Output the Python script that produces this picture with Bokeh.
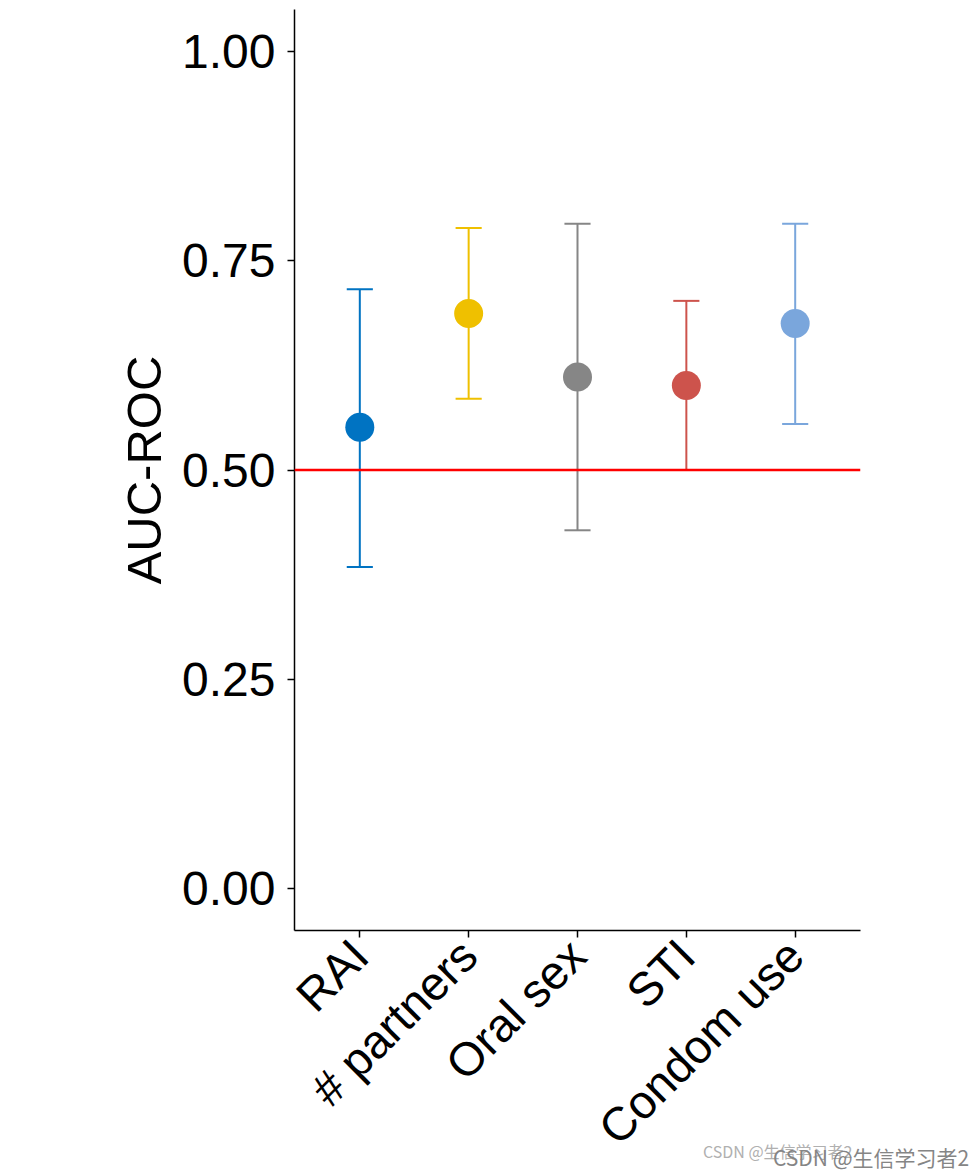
import math
from bokeh.plotting import figure
from bokeh.layouts import column
from bokeh.models import (ColumnDataSource, FactorRange, Span, FixedTicker, Div)
from bokeh.transform import dodge
from bokeh.embed import file_html
from bokeh.resources import INLINE

categories = ["RAI", "# partners", "Oral sex", "STI", "Condom use"]
auc = [0.551, 0.687, 0.611, 0.601, 0.675]
lower = [0.384, 0.585, 0.428, 0.500, 0.555]
upper = [0.716, 0.789, 0.794, 0.702, 0.794]
colors = ["#0073C2", "#EFC000", "#868686", "#CD534C", "#7AA6DC"]
y_ticks = [0.0, 0.25, 0.5, 0.75, 1.0]
y_tick_labels = ["0.00", "0.25", "0.50", "0.75", "1.00"]
reference_line = 0.5
watermark = "CSDN @生信学习者2"

FONT = "Liberation Sans"

source = ColumnDataSource(dict(cat=categories, auc=auc, lower=lower,
                               upper=upper, color=colors))

x_range = FactorRange(factors=categories, range_padding=0.1,
                      range_padding_units="absolute")

p = figure(width=964, height=1176, x_range=x_range, y_range=(-0.05, 1.05),
           output_backend="svg", toolbar_location=None,
           min_border_left=294, min_border_right=104,
           min_border_top=9, min_border_bottom=245)

p.outline_line_color = None
p.xgrid.grid_line_color = None
p.ygrid.grid_line_color = None
p.background_fill_color = "white"
p.border_fill_color = "white"

# reference line
p.add_layout(Span(location=reference_line, dimension="width",
                  line_color="#FF0000", line_width=2.5))

# error bars
p.segment(x0="cat", y0="lower", x1="cat", y1="upper", source=source,
          line_color="color", line_width=2)
cap = 0.12
p.segment(x0=dodge("cat", -cap, range=x_range), y0="upper",
          x1=dodge("cat", cap, range=x_range), y1="upper", source=source,
          line_color="color", line_width=2)
p.segment(x0=dodge("cat", -cap, range=x_range), y0="lower",
          x1=dodge("cat", cap, range=x_range), y1="lower", source=source,
          line_color="color", line_width=2)

# points
p.scatter(x="cat", y="auc", source=source, size=29, fill_color="color",
          line_color="color", line_width=0)

# axes
for ax in (p.xaxis[0], p.yaxis[0]):
    ax.axis_line_color = "black"
    ax.axis_line_width = 1.5
    ax.major_tick_line_color = "black"
    ax.major_tick_line_width = 1.5
    ax.major_tick_out = 7
    ax.major_tick_in = 0
    ax.minor_tick_line_color = None
    ax.major_label_text_font = FONT
    ax.major_label_text_color = "black"
    ax.major_label_standoff = 12

p.yaxis.major_label_text_font_size = "48px"
p.xaxis.major_label_text_font_size = "47px"

p.yaxis.ticker = FixedTicker(ticks=y_ticks)
p.yaxis.major_label_overrides = {t: l for t, l in zip(y_ticks, y_tick_labels)}
p.yaxis.axis_label = "AUC-ROC"
p.yaxis.axis_label_text_font = FONT
p.yaxis.axis_label_text_font_size = "49px"
p.yaxis.axis_label_text_font_style = "normal"
p.yaxis.axis_label_text_color = "black"
p.yaxis.axis_label_standoff = 8

p.xaxis.major_label_orientation = math.pi / 4
p.xaxis.major_label_standoff = 10

# watermark overlaid on the bottom strip of the chart
wm_html = (
    '<div style="position:relative;width:964px;height:40px;'
    "font-family:'Noto Sans CJK SC',sans-serif;line-height:1;\">"
    '<span style="position:absolute;left:703px;top:7px;font-size:16px;'
    'color:#b0b0b0;white-space:nowrap;">' + watermark + '</span>'
    '<span style="position:absolute;left:773px;top:11px;font-size:21px;'
    'color:#858585;white-space:nowrap;">' + watermark + '</span>'
    '</div>'
)
wm = Div(text=wm_html, width=964, height=40, margin=(-40, 0, 0, 0))

layout = column(p, wm, spacing=0)

open("out.html", "w").write(file_html(layout, INLINE))
